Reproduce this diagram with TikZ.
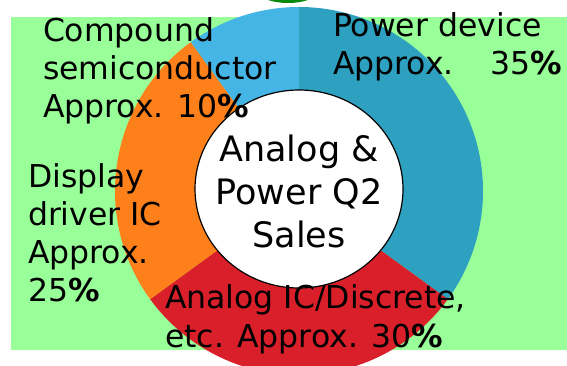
\documentclass[tikz,border=0pt]{standalone}
\usepackage{fontspec}
\setmainfont{DejaVu Sans}
\definecolor{bggreen}{HTML}{99FF99}
\definecolor{darkgreen}{HTML}{0A8A0A}
\definecolor{teal}{HTML}{2DA1BF}
\definecolor{lightblue}{HTML}{44B5E5}
\definecolor{orangec}{HTML}{FD801A}
\definecolor{redc}{HTML}{D9202A}
\tikzset{
  slice/.style={draw=none},
  lbl/.style={inner sep=0pt, outer sep=0pt, text=black},
}
\newcommand{\pct}{\textbf{\%}}
\begin{document}
\begin{tikzpicture}[x=1pt,y=1pt]
\useasboundingbox (0,0) rectangle (567,366);
\clip (0,0) rectangle (567,366);
\fill[bggreen] (11,16) rectangle (567,349);
\fill[darkgreen] (288,374) ellipse [x radius=29, y radius=11];
\coordinate (c) at (299,175);
\fill[teal] (c) -- ++(90:184) arc[start angle=90, end angle=-36, radius=184] -- cycle;
\fill[redc] (c) -- ++(-36:184) arc[start angle=-36, end angle=-144, radius=184] -- cycle;
\fill[orangec] (c) -- ++(-144:184) arc[start angle=-144, end angle=-234, radius=184] -- cycle;
\fill[lightblue] (c) -- ++(126:184) arc[start angle=126, end angle=90, radius=184] -- cycle;
\draw[fill=white, line width=1.2pt] (299,177) ellipse [x radius=104, y radius=99];
\node[lbl, anchor=base] (center) at (299,204) {\fontsize{35}{43}\selectfont\begin{tabular}[t]{@{}c@{}}Analog \&\\Power Q2\\Sales\end{tabular}};
\node[lbl, anchor=base west] (compound) at (43,324) {\fontsize{31.5}{38}\selectfont\begin{tabular}[t]{@{}l@{}}Compound\\semiconductor\\Approx. 10\pct\end{tabular}};
\node[lbl, anchor=base west] (power) at (333,329) {\fontsize{31.5}{38}\selectfont\begin{tabular}[t]{@{}l@{}}Power device\\Approx.\hspace{23pt} 35\pct\end{tabular}};
\node[lbl, anchor=base west] (display) at (28,178) {\fontsize{31.5}{38}\selectfont\begin{tabular}[t]{@{}l@{}}Display\\driver IC\\Approx.\\25\pct\end{tabular}};
\node[lbl, anchor=base west] (analog) at (165,57) {\fontsize{31.5}{39}\selectfont\begin{tabular}[t]{@{}l@{}}Analog IC/Discrete,\\etc. Approx. 30\pct\end{tabular}};
\end{tikzpicture}
\end{document}
